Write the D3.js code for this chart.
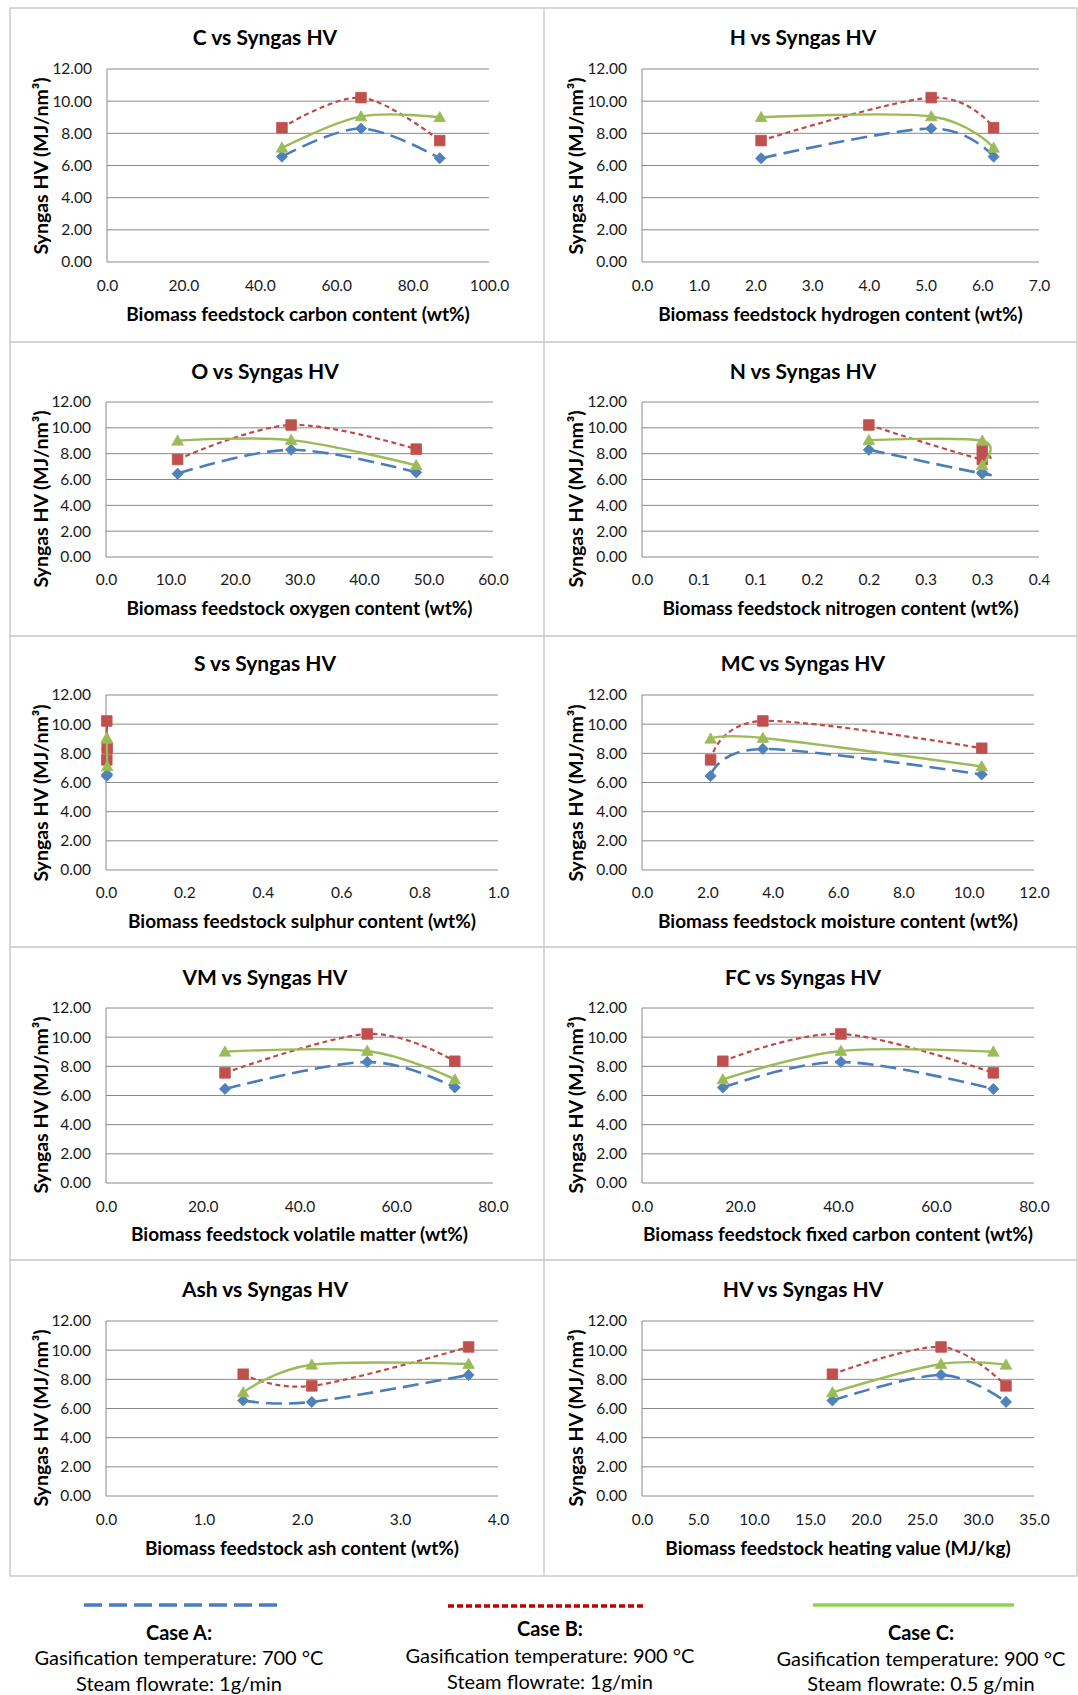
<!DOCTYPE html>
<html><head><meta charset="utf-8">
<script src="https://cdn.jsdelivr.net/npm/d3@7"></script>
<style>
body{margin:0;background:#fff;}
svg{display:block;font-family:Lato,"Open Sans",sans-serif;}
</style></head>
<body><svg id="c" width="1078" height="1695"></svg>
<script>
// ---- DATA ----
// Feedstocks F1, F2, F3 : syngas heating value (MJ/nm3) for each case
const syngasCaseA = [6.55, 8.30, 6.45];
const syngasCaseB = [8.35, 10.22, 7.55];
const syngasCaseC = [7.10, 9.05, 9.00];
// Feedstock properties (F1, F2, F3)
const carbon   = [45.8, 66.5, 87.1];
const hydrogen = [6.2, 5.1, 2.1];
const oxygen   = [48.1, 28.7, 11.1];
const nitrogen = [0.3, 0.2, 0.3];
const sulphur  = [0.003, 0.002, 0.002];
const moisture = [10.4, 3.7, 2.1];
const volatile = [72.1, 54.0, 24.6];
const fixedC   = [16.5, 40.6, 71.7];
const ash      = [1.4, 3.7, 2.1];
const heating  = [17.0, 26.7, 32.5];
const panelTitles = ["C vs Syngas HV","H vs Syngas HV","O vs Syngas HV","N vs Syngas HV","S vs Syngas HV",
  "MC vs Syngas HV","VM vs Syngas HV","FC vs Syngas HV","Ash vs Syngas HV","HV vs Syngas HV"];
const xTitles = ["Biomass feedstock carbon content (wt%)","Biomass feedstock hydrogen content (wt%)",
  "Biomass feedstock oxygen content (wt%)","Biomass feedstock nitrogen content (wt%)",
  "Biomass feedstock sulphur content (wt%)","Biomass feedstock moisture content (wt%)",
  "Biomass feedstock volatile matter (wt%)","Biomass feedstock fixed carbon content (wt%)",
  "Biomass feedstock ash content (wt%)","Biomass feedstock heating value (MJ/kg)"];
const xMaxes = [100, 7, 60, 0.35, 1.0, 12, 80, 80, 4, 35];
const xSteps = [20, 1, 10, 0.05, 0.2, 2, 20, 20, 1, 5];
const yTicks = [0, 2, 4, 6, 8, 10, 12];
const yTitle = "Syngas HV (MJ/nm³)";
const caseNames = ["Case A:", "Case B:", "Case C:"];
const caseTemps = ["Gasification temperature: 700 °C","Gasification temperature: 900 °C","Gasification temperature: 900 °C"];
const caseSteam = ["Steam flowrate: 1g/min","Steam flowrate: 1g/min","Steam flowrate: 0.5 g/min"];

const xSets = [carbon, hydrogen, oxygen, nitrogen, sulphur, moisture, volatile, fixedC, ash, heating];
const seriesVals = [syngasCaseA, syngasCaseB, syngasCaseC];

// ---- LAYOUT ----
const rows = [
  {y0:8,   y1:342,  title:36,   top:69,   bot:262,  xTick:285,  xTitle:313,  yTitle:166},
  {y0:342, y1:636,  title:370,  top:402,  bot:557,  xTick:579,  xTitle:607,  yTitle:499},
  {y0:636, y1:947,  title:662,  top:695,  bot:870,  xTick:892,  xTitle:920,  yTitle:793},
  {y0:947, y1:1260, title:976,  top:1008, bot:1183, xTick:1206, xTitle:1233, yTitle:1105},
  {y0:1260,y1:1576, title:1288, top:1321, bot:1496, xTick:1519, xTitle:1547, yTitle:1418}
];
const plotX = [[107,489],[642,1039],[106,493],[642,1039],[106,498],[642,1034],[106,493],[642,1034],[106,498],[642,1034]];
const titleX = [265, 803];
const yTitleX = [40, 575];

const styles = [
  {line:"#4A7EBB", fill:"#4F81BD", dash:"16,7", w:2.6, marker:"diamond"},
  {line:"#BE4B48", fill:"#C0504D", dash:"5,3.5", w:2.2, marker:"square"},
  {line:"#9BBB59", fill:"#9BBB59", dash:null, w:2.4, marker:"triangle"}
];

const svg = d3.select("#c");
svg.append("rect").attr("width",1078).attr("height",1695).attr("fill","#fff");

// panel borders
const bc = "#c4c4c4";
const g0 = svg.append("g").attr("stroke", bc).attr("stroke-width",1.3).attr("fill","none");
g0.append("rect").attr("x",10).attr("y",8).attr("width",1067).attr("height",1568);
rows.forEach((r,i)=>{ if(i>0) g0.append("line").attr("x1",10).attr("x2",1077).attr("y1",r.y0).attr("y2",r.y0); });
g0.append("line").attr("x1",544).attr("x2",544).attr("y1",8).attr("y2",1576);

function markerPath(type){
  if(type==="diamond") return "M0,-5.6L5.6,0L0,5.6L-5.6,0Z";
  if(type==="square") return "M-5.3,-5.3H5.3V5.3H-5.3Z";
  return "M0,-5.8L5.8,4.4H-5.8Z";
}

function fmtX(v){ // Excel-style round half up to 1 decimal
  return (Math.round(v*10+1e-9)/10).toFixed(1);
}

for(let p=0;p<10;p++){
  const r = rows[Math.floor(p/2)];
  const col = p%2;
  const [xl, xr] = plotX[p];
  const x = d3.scaleLinear().domain([0, xMaxes[p]]).range([xl, xr]);
  const y = d3.scaleLinear().domain([0, 12]).range([r.bot, r.top]);
  const g = svg.append("g");

  // gridlines
  g.append("g").selectAll("line").data(yTicks).join("line")
    .attr("x1", xl).attr("x2", xr).attr("y1", d=>y(d)).attr("y2", d=>y(d))
    .attr("stroke", "#8a8a8a").attr("stroke-width", 1);
  // y axis line
  g.append("line").attr("x1",xl).attr("x2",xl).attr("y1",r.top).attr("y2",r.bot)
    .attr("stroke","#8a8a8a").attr("stroke-width",1);

  // y tick labels via axis
  const yAxis = d3.axisLeft(y).tickValues(yTicks).tickFormat(d3.format(".2f")).tickSize(0).tickPadding(15);
  const ya = g.append("g").attr("transform",`translate(${xl},0)`).call(yAxis);
  ya.select(".domain").remove();
  ya.selectAll("text").attr("font-size",15.5).attr("fill","#1a1a1a").attr("font-family","Lato");

  // x tick labels via axis
  const xt = d3.range(0, xMaxes[p] + xSteps[p]/2, xSteps[p]);
  const xAxis = d3.axisBottom(x).tickValues(xt).tickFormat(fmtX).tickSize(0).tickPadding(0);
  const xa = g.append("g").attr("transform",`translate(0,${r.xTick})`).call(xAxis);
  xa.select(".domain").remove();
  xa.selectAll("text").attr("font-size",15.5).attr("fill","#1a1a1a").attr("font-family","Lato")
    .attr("dy",null).attr("dominant-baseline","central");

  // titles
  g.append("text").attr("x", titleX[col]).attr("y", r.title).attr("text-anchor","middle")
    .attr("dominant-baseline","central").attr("font-weight","bold").attr("font-size",21)
    .attr("fill","#000").text(panelTitles[p]);
  g.append("text").attr("x", (xl+xr)/2).attr("y", r.xTitle).attr("text-anchor","middle")
    .attr("dominant-baseline","central").attr("font-weight","bold").attr("font-size",19)
    .attr("fill","#000").text(xTitles[p]);
  g.append("text").attr("transform",`translate(${yTitleX[col]},${r.yTitle}) rotate(-90)`)
    .attr("text-anchor","middle").attr("dominant-baseline","central").attr("font-weight","bold")
    .attr("font-size",19.5).attr("fill","#000").text(yTitle);

  // series
  const xs = xSets[p];
  const order = [0,1,2].sort((a,b)=> (xs[a]-xs[b]) || (b-a));
  seriesVals.forEach((vals, s)=>{
    const st = styles[s];
    const pts = order.map(i=>[xs[i], vals[i]]);
    const line = d3.line().x(d=>x(d[0])).y(d=>y(d[1])).curve(d3.curveCatmullRom.alpha(0));
    g.append("path").attr("d", line(pts)).attr("fill","none").attr("stroke",st.line)
      .attr("stroke-width",st.w).attr("stroke-dasharray",st.dash).attr("stroke-linecap","butt");
    g.append("g").selectAll("path").data(pts).join("path")
      .attr("transform", d=>`translate(${x(d[0])},${y(d[1])})`)
      .attr("d", markerPath(st.marker)).attr("fill", st.fill).attr("stroke", st.fill).attr("stroke-width",0.8);
  });
}

// ---- LEGEND ----
const legend = [
  {x1:84, x2:283, cx:179, lineY:1605, ys:[1632,1657,1683], color:"#4A7EBB", dash:"18,7", w:3.5},
  {x1:448, x2:646, cx:550, lineY:1606, ys:[1628,1655,1681], color:"#C00000", dash:"6,3", w:3.5},
  {x1:813, x2:1014, cx:921, lineY:1605, ys:[1632,1658,1683], color:"#92D050", dash:null, w:3.5}
];
legend.forEach((l,i)=>{
  svg.append("line").attr("x1",l.x1).attr("x2",l.x2).attr("y1",l.lineY).attr("y2",l.lineY)
    .attr("stroke",l.color).attr("stroke-width",l.w).attr("stroke-dasharray",l.dash);
  const lines = [caseNames[i], caseTemps[i], caseSteam[i]];
  lines.forEach((t,j)=>{
    svg.append("text").attr("x",l.cx).attr("y",l.ys[j]).attr("text-anchor","middle")
      .attr("dominant-baseline","central").attr("font-size",20)
      .attr("font-weight", j===0?"bold":"normal").attr("fill","#000").text(t);
  });
});
</script></body></html>
